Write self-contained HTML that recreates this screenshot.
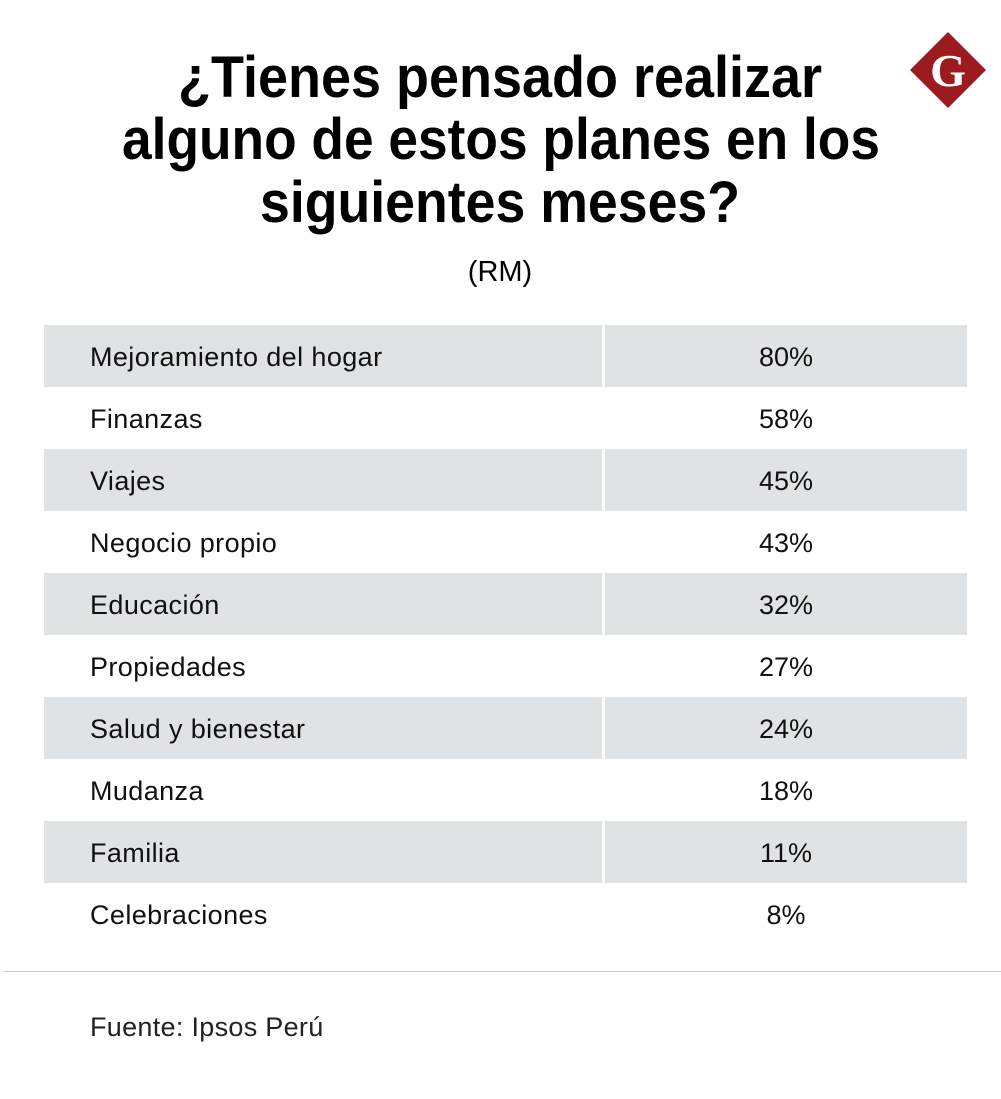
<!DOCTYPE html>
<html><head><meta charset="utf-8">
<style>
body{margin:0;width:1001px;height:1099px;background:#fff;position:relative;overflow:hidden;font-family:"Liberation Sans",sans-serif;color:#111}
.row{position:absolute;left:44px;width:923px;height:62px}
.cell{position:absolute;top:0;height:62px;line-height:64px;font-size:27px}
</style></head><body>
<svg style="position:absolute;left:0;top:0" width="1001" height="300">
<text x="178" y="97" font-family="Liberation Sans" font-weight="bold" font-size="58" textLength="644" lengthAdjust="spacingAndGlyphs" fill="#000">¿Tienes pensado realizar</text>
<text x="122" y="159" font-family="Liberation Sans" font-weight="bold" font-size="58" textLength="758" lengthAdjust="spacingAndGlyphs" fill="#000">alguno de estos planes en los</text>
<text x="260" y="222" font-family="Liberation Sans" font-weight="bold" font-size="58" textLength="480" lengthAdjust="spacingAndGlyphs" fill="#000">siguientes meses?</text>
<text x="500" y="281" text-anchor="middle" font-family="Liberation Sans" font-size="29" fill="#000">(RM)</text>
<g>
<polygon points="948,32 986,70 948,108 910,70" fill="#9b1b1f"/>
<text x="948" y="86" text-anchor="middle" font-family="Liberation Serif" font-weight="bold" font-size="46" fill="#fff">G</text>
</g>
</svg>
<div id="table"></div>
<div style="position:absolute;left:3px;top:971px;width:998px;height:1px;background:#ccc"></div>
<div style="position:absolute;left:90px;top:1012px;font-size:27px;color:#222;letter-spacing:0.3px">Fuente: Ipsos Perú</div>
<script>
const categories=["Mejoramiento del hogar","Finanzas","Viajes","Negocio propio","Educación","Propiedades","Salud y bienestar","Mudanza","Familia","Celebraciones"];
const values=[80,58,45,43,32,27,24,18,11,8];
const t=document.getElementById('table');
categories.forEach((c,i)=>{
 const r=document.createElement('div');r.className='row';r.style.top=(325+i*62)+'px';
 
 
 const a=document.createElement('div');a.className='cell';a.style.left='0';a.style.width='558px';a.style.paddingLeft='46px';a.style.boxSizing='border-box';a.style.letterSpacing='0.4px';
 
 
 a.textContent=c;
 const b=document.createElement('div');b.className='cell';b.style.left='561px';b.style.width='362px';b.style.textAlign='center';
 
 
 b.textContent=values[i]+'%';
 if(i%2==0){a.style.background='#dfe3e6';b.style.background='#dfe3e6';}
 r.appendChild(a);r.appendChild(b);t.appendChild(r);
});
</script>
</body></html>
